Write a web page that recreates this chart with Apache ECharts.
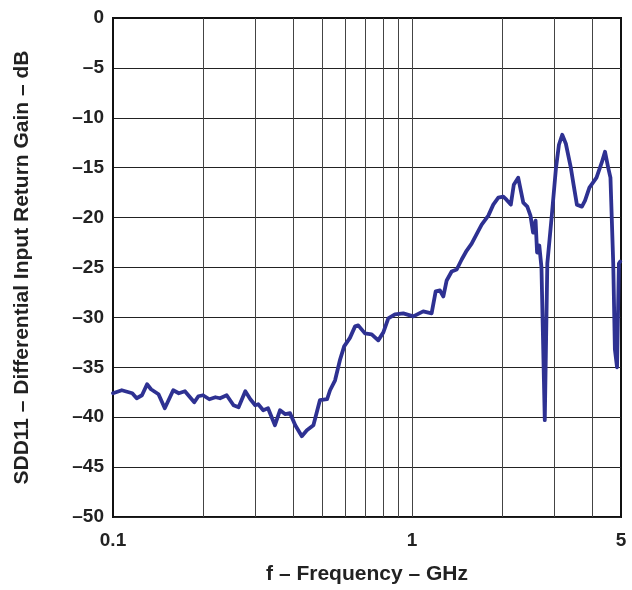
<!DOCTYPE html>
<html>
<head>
<meta charset="utf-8">
<script src="https://cdn.jsdelivr.net/npm/echarts@6/dist/echarts.min.js"></script>
<style>
html,body{margin:0;padding:0;background:#fff;}
#chart{width:632px;height:590px;}
</style>
</head>
<body>
<div id="chart"></div>
<script>
const freqGHz = [0.100,0.107,0.116,0.120,0.125,0.130,0.134,0.142,0.149,0.159,0.166,0.174,0.187,0.193,0.200,0.210,0.220,0.228,0.240,0.253,0.263,0.277,0.288,0.299,0.306,0.318,0.330,0.348,0.362,0.377,0.391,0.407,0.428,0.445,0.468,0.492,0.520,0.532,0.553,0.575,0.593,0.620,0.645,0.661,0.696,0.733,0.771,0.802,0.833,0.877,0.935,1.01,1.09,1.163,1.20,1.24,1.273,1.306,1.357,1.411,1.466,1.524,1.583,1.645,1.71,1.80,1.87,1.944,2.02,2.07,2.14,2.19,2.265,2.356,2.43,2.49,2.54,2.59,2.62,2.665,2.71,2.78,2.835,2.93,3.03,3.10,3.18,3.27,3.40,3.47,3.56,3.70,3.79,3.92,4.14,4.31,4.42,4.53,4.61,4.71,4.77,4.85,4.92,4.97];
const sdd11dB = [-37.6,-37.3,-37.6,-38.1,-37.8,-36.7,-37.2,-37.7,-39.1,-37.3,-37.6,-37.4,-38.5,-37.9,-37.8,-38.2,-38.0,-38.1,-37.8,-38.8,-39.0,-37.4,-38.2,-38.8,-38.7,-39.3,-39.1,-40.8,-39.3,-39.7,-39.6,-40.8,-41.9,-41.3,-40.8,-38.3,-38.2,-37.3,-36.3,-34.2,-32.9,-32.05,-30.9,-30.8,-31.6,-31.7,-32.3,-31.5,-30.1,-29.7,-29.6,-29.9,-29.4,-29.6,-27.4,-27.3,-27.9,-26.3,-25.4,-25.2,-24.2,-23.3,-22.6,-21.65,-20.7,-19.8,-18.7,-18.0,-17.9,-18.2,-18.7,-16.7,-16.0,-18.5,-18.9,-19.8,-21.5,-20.3,-23.5,-22.8,-25.0,-40.3,-24.6,-20.0,-15.05,-12.7,-11.7,-12.6,-15.05,-16.7,-18.7,-18.9,-18.3,-17.0,-16.0,-14.5,-13.4,-15.0,-16.0,-24.6,-33.2,-35.0,-24.6,-24.4];
const verticalGridFreqs = [0.2,0.3,0.4,0.5,0.6,0.7,0.8,0.9,1,2,3,4];
const xTickLabels = ['0.1','1','5'];
const xTitle = 'f \u2013 Frequency \u2013 GHz';
const yTitle = 'SDD11 \u2013 Differential Input Return Gain \u2013 dB';

const chart = echarts.init(document.getElementById('chart'), null, {renderer:'canvas'});
const font = 'Liberation Sans, Arial, Helvetica, sans-serif';
chart.setOption({
  backgroundColor:'#fff',
  animation:false,
  grid:{left:113,right:11,top:18,bottom:67,show:true,borderColor:'#111',borderWidth:2,backgroundColor:'transparent'},
  xAxis:{
    type:'log', logBase:10, min:0.1, max:5,
    name:xTitle, nameLocation:'middle', nameGap:47,
    nameTextStyle:{fontFamily:font,fontWeight:'bold',fontSize:21,color:'#222'},
    axisLine:{show:true,lineStyle:{color:'#111',width:2}},
    axisTick:{show:false},
    splitLine:{show:false},
    axisLabel:{
      fontFamily:font,fontWeight:'bold',fontSize:19,color:'#222',margin:14,
      showMinLabel:true,showMaxLabel:true,
      formatter:function(v){const s=String(+Number(v).toPrecision(3));return xTickLabels.indexOf(s)>=0?s:'';}
    }
  },
  yAxis:{
    type:'value', min:-50, max:0, interval:5,
    name:yTitle, nameLocation:'middle', nameGap:80, nameRotate:90,
    nameTextStyle:{fontFamily:font,fontWeight:'bold',fontSize:21,color:'#222'},
    axisLine:{show:true,lineStyle:{color:'#111',width:2}},
    axisTick:{show:false},
    splitLine:{show:true,lineStyle:{color:'#222',width:1}},
    axisLabel:{
      fontFamily:font,fontWeight:'bold',fontSize:19,color:'#222',margin:9,
      formatter:function(v){return String(v).replace('-','\u2013');}
    }
  },
  series:[
    {
      type:'line', data:[], z:1, silent:true,
      markLine:{silent:true,symbol:['none','none'],animation:false,
        label:{show:false},
        lineStyle:{color:'#444',width:1,type:'solid'},
        emphasis:{disabled:true},
        data:verticalGridFreqs.map(v=>({xAxis:v}))}
    },
    {
      type:'line', z:5, showSymbol:false, silent:true,
      data:freqGHz.map((f,i)=>[f,sdd11dB[i]]),
      lineStyle:{color:'#2E3192',width:3.8,join:'round',cap:'round'}
    }
  ]
});
</script>
</body>
</html>
